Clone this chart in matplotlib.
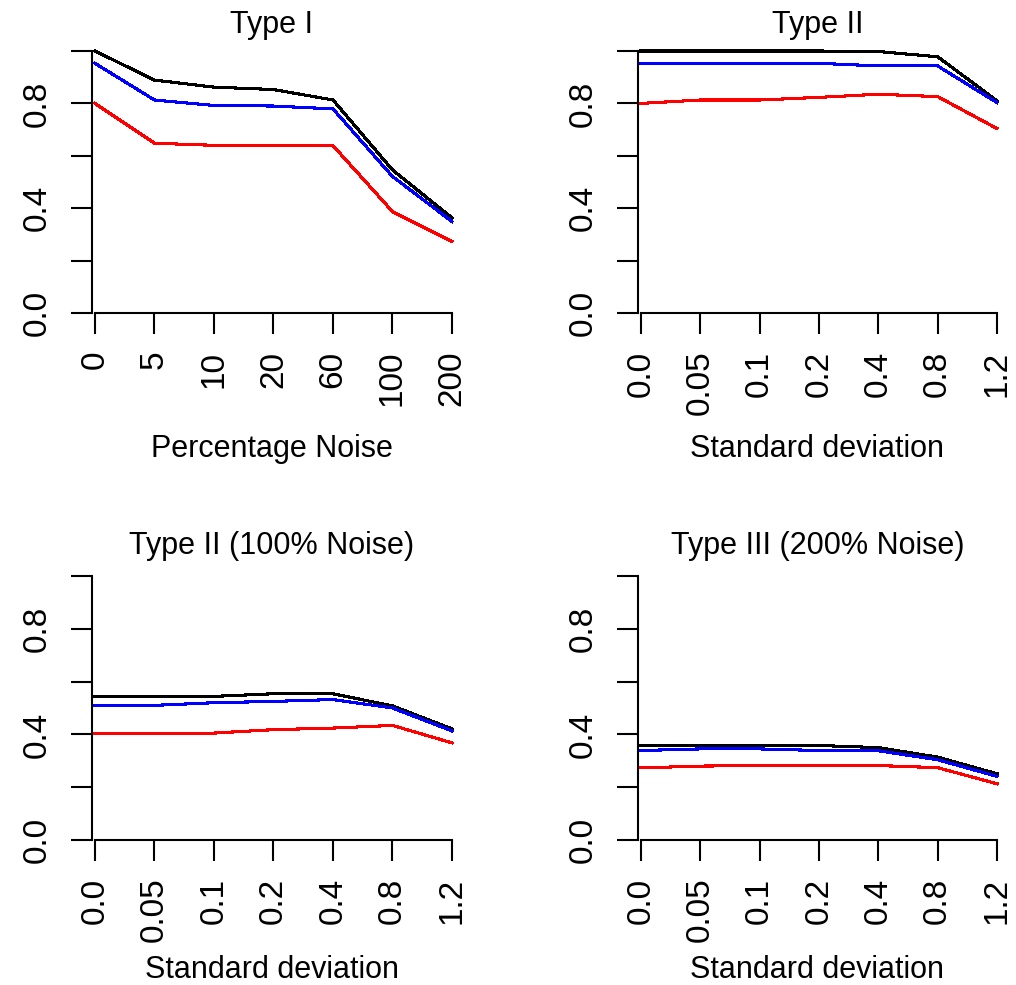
import numpy as np
import matplotlib
matplotlib.use("Agg")
import matplotlib.pyplot as plt

plt.rcParams['font.family'] = ['Liberation Sans', 'DejaVu Sans']

noise_labels = ['0', '5', '10', '20', '60', '100', '200']
sd_labels = ['0.0', '0.05', '0.1', '0.2', '0.4', '0.8', '1.2']

# Type I
black1 = [1.0, 0.889, 0.862, 0.853, 0.813, 0.546, 0.363]
blue1 = [0.953, 0.813, 0.792, 0.790, 0.779, 0.521, 0.349]
red1 = [0.800, 0.648, 0.640, 0.639, 0.639, 0.387, 0.273]

# Type II
black2 = [1.0, 1.0, 1.0, 1.0, 0.998, 0.978, 0.810]
blue2 = [0.953, 0.953, 0.953, 0.953, 0.943, 0.943, 0.803]
red2 = [0.800, 0.813, 0.813, 0.823, 0.835, 0.826, 0.704]

# Type II (100% Noise)
black3 = [0.544, 0.544, 0.544, 0.554, 0.554, 0.508, 0.421]
blue3 = [0.510, 0.510, 0.520, 0.525, 0.532, 0.500, 0.413]
red3 = [0.403, 0.403, 0.405, 0.418, 0.424, 0.434, 0.368]

# Type III (200% Noise)
black4 = [0.358, 0.358, 0.358, 0.358, 0.350, 0.314, 0.251]
blue4 = [0.339, 0.345, 0.345, 0.339, 0.338, 0.304, 0.241]
red4 = [0.273, 0.280, 0.282, 0.282, 0.282, 0.274, 0.213]

panels = [
    ("Type I", "Percentage Noise", noise_labels, black1, blue1, red1),
    ("Type II", "Standard deviation", sd_labels, black2, blue2, red2),
    ("Type II (100% Noise)", "Standard deviation", sd_labels, black3, blue3, red3),
    ("Type III (200% Noise)", "Standard deviation", sd_labels, black4, blue4, red4),
]

W, H = 1016, 985
fig = plt.figure(figsize=(W / 100, H / 100), dpi=100)

# axes boxes in pixels: left, right, y of 0, y of 1
boxes = [(92, 452, 313, 51), (638, 997, 313, 51),
         (92, 452, 840, 576), (638, 997, 840, 576)]
title_pads = [13, 13, 16, 16]
label_offsets = [144, 144, 138, 138]

fs = 22
for (title, xlab, labels, bk, bl, rd), (l, r, y0, y1), tp, lo in zip(panels, boxes, title_pads, label_offsets):
    ax = fig.add_axes([l / W, (H - y0) / H, (r - l) / W, (y0 - y1) / H])
    x = np.arange(len(labels))
    for vals, col in [(bk, 'black'), (bl, 'blue'), (rd, 'red')]:
        ax.plot(x, vals, color=col, lw=1.5, clip_on=False, antialiased=False)
    ax.set_xlim(-0.05, 6)
    ax.set_ylim(0, 1)
    for s in ['top', 'right']:
        ax.spines[s].set_visible(False)
    ax.spines['left'].set_linewidth(1.5)
    ax.spines['bottom'].set_linewidth(1.5)
    ax.spines['bottom'].set_bounds(0, 6)
    ax.set_xticks(x)
    ax.set_xticklabels(labels, rotation=90)
    yt = [0.0, 0.2, 0.4, 0.6, 0.8, 1.0]
    ax.set_yticks(yt)
    ax.set_yticklabels(['0.0', '', '0.4', '', '0.8', ''], rotation=90, va='center')
    ax.tick_params(axis='both', length=15, width=1.5, labelsize=24, colors='black')
    ax.tick_params(axis='x', pad=12)
    ax.tick_params(axis='y', pad=13)
    ax.set_title(title, fontsize=fs, pad=tp)
    ax.set_xlabel(xlab, fontsize=fs)
    ax.xaxis.label.set_va('baseline')
    ax.xaxis.set_label_coords(0.5, -lo / (y0 - y1))

fig.savefig("out.png", dpi=100)
